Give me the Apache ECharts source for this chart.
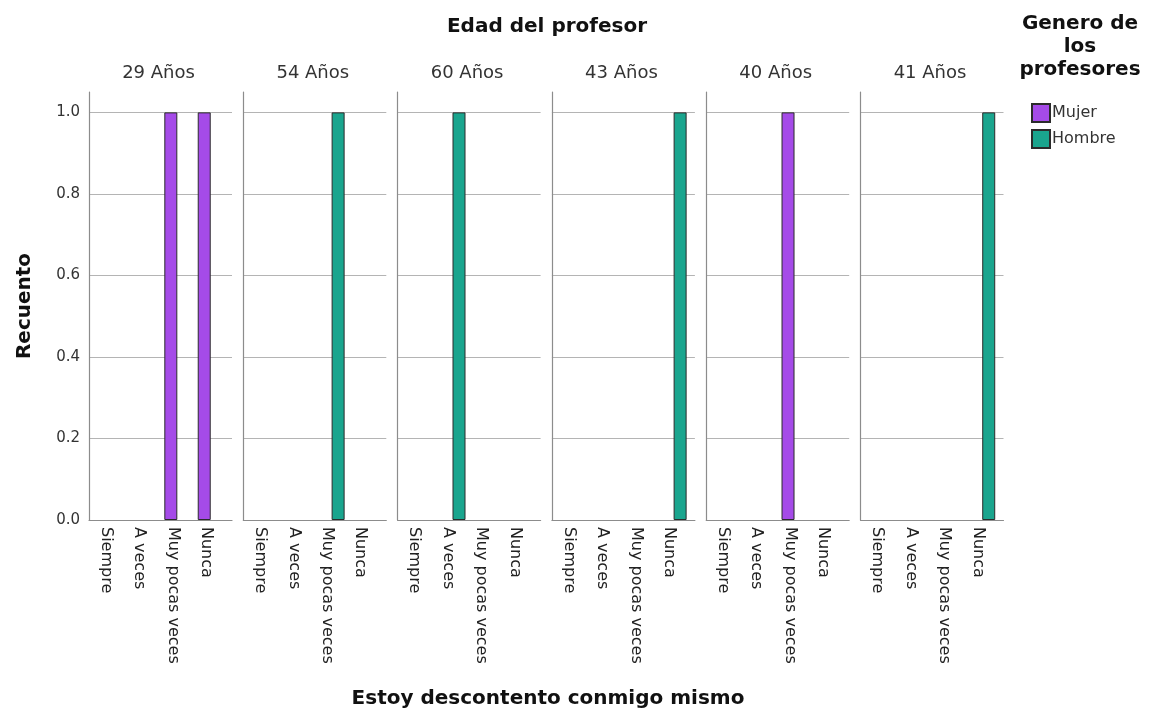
<!DOCTYPE html>
<html>
<head>
<meta charset="utf-8">
<script src="https://cdn.jsdelivr.net/npm/echarts@6/dist/echarts.min.js"></script>
<style>
  html, body { margin: 0; padding: 0; background: #fff; }
  #chart { width: 1151px; height: 713px; }
</style>
</head>
<body>
<div id="chart"></div>
<script>
// Teacher age panels, answer categories and counts per gender
const panels = ['29 Años', '54 Años', '60 Años', '43 Años', '40 Años', '41 Años'];
const categories = ['Siempre', 'A veces', 'Muy pocas veces', 'Nunca'];
const genders = ['Mujer', 'Hombre'];
const mujer = [
  [0, 0, 1, 1],
  [0, 0, 0, 0],
  [0, 0, 0, 0],
  [0, 0, 0, 0],
  [0, 0, 1, 0],
  [0, 0, 0, 0]
];
const hombre = [
  [0, 0, 0, 0],
  [0, 0, 1, 0],
  [0, 1, 0, 0],
  [0, 0, 0, 1],
  [0, 0, 0, 0],
  [0, 0, 0, 1]
];
const yTicks = [0, 0.2, 0.4, 0.6, 0.8, 1.0];

const colors = { Mujer: '#a54be8', Hombre: '#1aa58e' };
const FONT = '"DejaVu Sans", Verdana, sans-serif';

const chart = echarts.init(document.getElementById('chart'), null, { renderer: 'canvas' });

const panelLeft0 = 89, panelStep = 154.3, panelWidth = 143;
const gridTop = 92, gridBottom = 193;
// category labels sit slightly left of the bar clusters
const labelShift = 0.135;

const grids = [], xAxes = [], yAxes = [], series = [], graphics = [];

panels.forEach((name, p) => {
  const left = panelLeft0 + p * panelStep;
  grids.push({ left: left, width: panelWidth, top: gridTop, bottom: gridBottom, containLabel: false });
  xAxes.push({
    type: 'value', gridIndex: p, min: -0.644, max: 3.637,
    axisLine: { show: true, onZero: false, lineStyle: { color: '#8c8c8c', width: 1.2 } },
    axisTick: { show: false },
    splitLine: { show: false },
    axisLabel: {
      customValues: categories.map((c, i) => i - labelShift),
      formatter: v => categories[Math.round(v + labelShift)] || '',
      rotate: -90, margin: 7, fontSize: 16, color: '#222', fontFamily: FONT
    }
  });
  yAxes.push({
    type: 'value', gridIndex: p, min: 0, max: 1.05, interval: 0.2,
    name: p === 0 ? 'Recuento' : '',
    nameLocation: 'middle', nameGap: 54, nameRotate: 90,
    nameTextStyle: { fontSize: 20, fontWeight: 'bold', color: '#111', fontFamily: FONT },
    axisLine: { show: true, onZero: false, lineStyle: { color: '#8c8c8c', width: 1.2 } },
    axisTick: { show: false },
    splitLine: { show: true, showMaxLine: false, showMinLine: false, lineStyle: { color: '#b4b4b4', width: 1 } },
    axisLabel: {
      show: p === 0, margin: 9, fontSize: 15, color: '#333', fontFamily: FONT,
      customValues: yTicks,
      formatter: v => v.toFixed(1)
    }
  });
  [mujer, hombre].forEach((rows, g) => {
    const pts = [];
    rows[p].forEach((v, i) => { if (v > 0) pts.push([i, v]); });
    series.push({
      name: genders[g], type: 'bar', xAxisIndex: p, yAxisIndex: p,
      data: pts, barWidth: 13, barGap: '0%',
      itemStyle: { color: colors[genders[g]], borderColor: '#2b2b2b', borderWidth: 1 },
      emphasis: { disabled: true }, animation: false
    });
  });
  // panel heading
  graphics.push({
    type: 'text', x: left + panelWidth / 2 - 2, y: 73,
    style: { text: name, fontSize: 18, fill: '#333', fontFamily: FONT, textAlign: 'center', textVerticalAlign: 'middle' }
  });
});

// overall headings
graphics.push({
  type: 'text', x: 547, y: 27,
  style: { text: 'Edad del profesor', fontSize: 20, fontWeight: 'bold', fill: '#111', fontFamily: FONT, textAlign: 'center', textVerticalAlign: 'middle' }
});
graphics.push({
  type: 'text', x: 548, y: 699,
  style: { text: 'Estoy descontento conmigo mismo', fontSize: 20, fontWeight: 'bold', fill: '#111', fontFamily: FONT, textAlign: 'center', textVerticalAlign: 'middle' }
});
['Genero de', 'los', 'profesores'].forEach((t, i) => {
  graphics.push({
    type: 'text', x: 1080, y: 24 + i * 23,
    style: { text: t, fontSize: 20, fontWeight: 'bold', fill: '#111', fontFamily: FONT, textAlign: 'center', textVerticalAlign: 'middle' }
  });
});

chart.setOption({
  animation: false,
  backgroundColor: '#fff',
  grid: grids,
  xAxis: xAxes,
  yAxis: yAxes,
  series: series,
  legend: {
    data: genders, orient: 'vertical', left: 1031, top: 103,
    itemWidth: 18, itemHeight: 18, itemGap: 6, padding: 0,
    icon: 'rect',
    textStyle: { fontSize: 16, color: '#333', fontFamily: FONT, padding: [0, 0, 0, -3] },
    selectedMode: false
  },
  graphic: graphics
});
</script>
</body>
</html>
